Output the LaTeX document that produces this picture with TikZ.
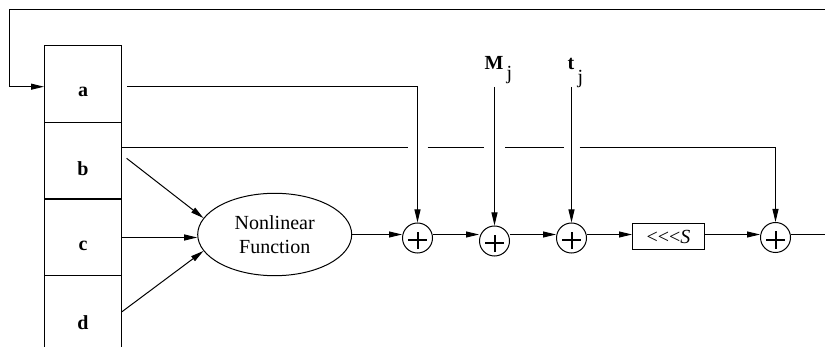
\documentclass[tikz,border=0pt]{standalone}
\usepackage{fontspec}
\setmainfont{Liberation Serif}
\usetikzlibrary{arrows.meta,calc,shapes.geometric}

\begin{document}
\begin{tikzpicture}[x=0.5pt,y=-0.5pt,line width=0.5pt,
  reg/.style={rectangle,draw,minimum width=38.5pt,minimum height=38.5pt,inner sep=0pt},
  reglab/.style={font=\fontsize{10}{12}\selectfont\bfseries,yshift=-4pt},
  sum/.style={circle,draw,minimum size=15pt,inner sep=0pt,
    path picture={\draw[line width=1pt] ([yshift=-1.2pt]path picture bounding box.center)
      +(-4.6pt,0) -- +(4.6pt,0) +(0,-4.4pt) -- +(0,4.4pt);}},
  lab/.style={font=\fontsize{10}{12}\selectfont,inner sep=0pt,anchor=base west},
  arr/.style={-{Triangle[length=6.5pt,width=3pt]}}]
\useasboundingbox (0,0) rectangle (825,347);
\node [reg,label={[reglab]center:a}] (ra) at (83,84) {};
\node [reg,label={[reglab]center:b}] (rb) at (83,160.7) {};
\node [reg,label={[reglab]center:c}] (rc) at (83,237.5) {};
\node [reg,label={[reglab]center:d}] (rd) at (83,314.5) {};
\node [ellipse,draw,minimum width=77pt,minimum height=41.2pt,inner sep=0pt,align=center,
  font=\fontsize{10}{12}\selectfont] (nf) at (274.7,234.5) {Nonlinear\\Function};
\node [sum] (s1) at (417.5,238) {};
\node [sum] (s2) at (494.5,241) {};
\node [sum] (s3) at (571.5,238) {};
\node [draw,minimum width=36pt,minimum height=13pt,inner sep=0pt,
  font=\fontsize{10}{12}\selectfont] (rot) at (668.5,237) {<\kern0pt<\kern0pt<\textit{S}};
\node [sum] (s5) at (775.5,237.5) {};
\node [lab] (mj) at (484,70) {\textbf{M}\,\raisebox{-5pt}{j}};
\node [lab] (tj) at (567,70) {\textbf{t}\,\raisebox{-7pt}{j}};
\coordinate (tl) at (9,10);
\coordinate (tr) at (825,10);
\coordinate (vtop) at (0,87);
\coordinate (outr) at (825,234.5);
\coordinate (bl) at ($(rb.east)+(0,6.6pt)$);

\draw[arr] (tr) -- (tl) |- ([yshift=-1.35pt]ra.west);
\draw[arr] ([xshift=2.5pt,yshift=-1.35pt]ra.east) -| (s1.north);
\draw (bl) -- ([xshift=-5pt]s1.north |- bl);
\draw ([xshift=5pt]s1.north |- bl) -- ([xshift=-5.25pt]s2.north |- bl);
\draw ([xshift=5.25pt]s2.north |- bl) -- ([xshift=-4pt]s3.north |- bl);
\draw[arr] ([xshift=4pt]s3.north |- bl) -| (s5.north);
\draw[arr] ([xshift=2.3pt,yshift=1.2pt]rb.east) -- (nf.167);
\draw[arr] (rc.east) -- (rc.east -| nf.west);
\draw[arr] ([yshift=1.4pt]rd.east) -- (nf.193);
\draw[arr] (nf.east) -- (nf.east -| s1.west);
\draw[arr] (s2.north |- vtop) -- (s2.north);
\draw[arr] (s3.north |- vtop) -- (s3.north);
\draw[arr] (s1.east |- nf.east) -- (s2.west |- nf.east);
\draw[arr] (s2.east |- nf.east) -- (s3.west |- nf.east);
\draw[arr] (s3.east |- nf.east) -- (rot.west |- nf.east);
\draw[arr] (rot.east |- nf.east) -- (s5.west |- nf.east);
\draw (s5.east |- nf.east) -- (outr);
\end{tikzpicture}
\end{document}
